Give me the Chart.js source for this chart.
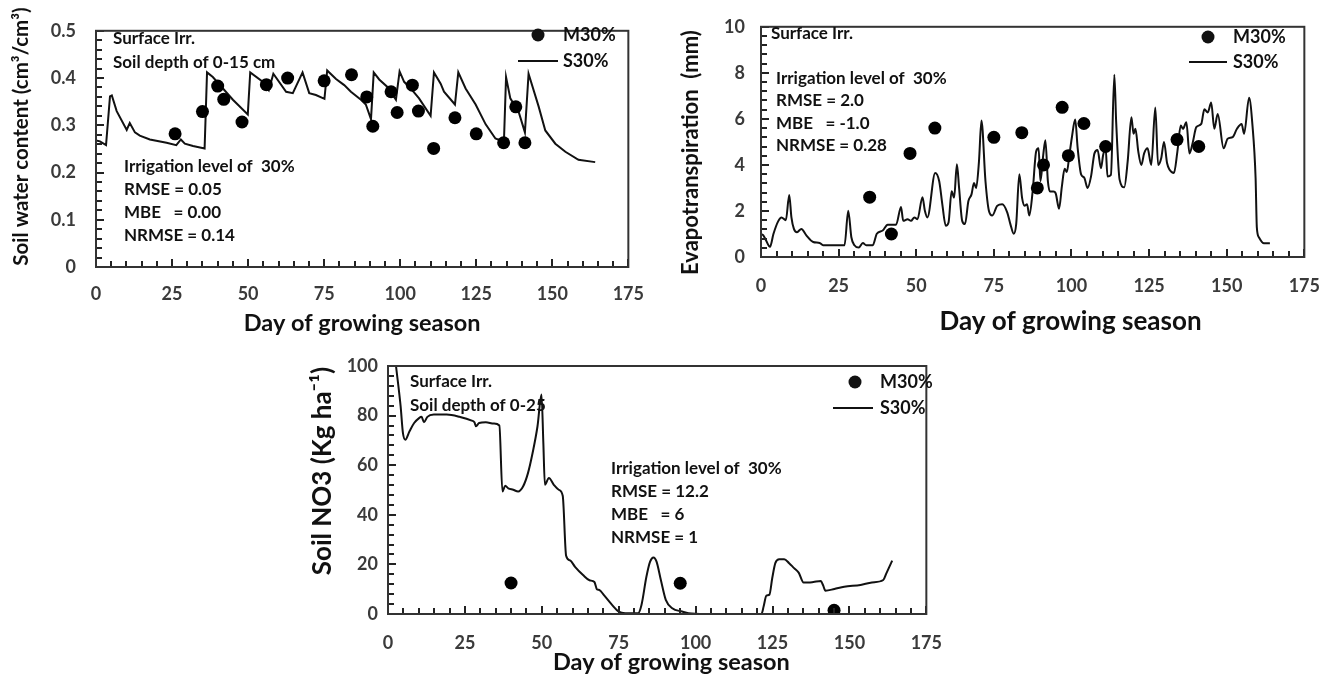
<!DOCTYPE html>
<html><head><meta charset="utf-8">
<script src="https://cdn.jsdelivr.net/npm/chart.js@4.4.1/dist/chart.umd.min.js"></script>
<style>
html,body{margin:0;padding:0;background:#fff;width:1338px;height:678px;overflow:hidden;position:relative}
canvas{position:absolute}
</style></head><body>
<canvas id="c1" width="660" height="340" style="left:0;top:0"></canvas>
<canvas id="c2" width="678" height="340" style="left:660px;top:0"></canvas>
<canvas id="c3" width="660" height="338" style="left:300px;top:340px"></canvas>
<script>
// ---------- DATA ----------
const seriesNames = ['M30%', 'S30%'];
const xAxisTitle = 'Day of growing season';

// Panel 1: soil water content
const swcSimDays = [0,1.3,3.3,4.6,5.2,6.8,10.1,11.1,12.8,14.4,17.7,23.2,26.4,27.9,29.2,31.9,35.7,36.5,38.4,45,49.9,50.7,54.8,56.8,58.3,62.5,64.7,67.9,70.1,72.3,75.1,76,78.9,81.6,83.8,87.1,88.7,90.4,91.3,93.1,95.8,98.6,99.8,101.3,104,106.2,110,111.1,113.3,114.4,118,119.1,121.5,124.8,128.1,131.3,134.1,134.8,136.2,139,141,142.2,145.5,147.7,151,154.3,158.6,164.1];
const swcSimVals = [0.268,0.266,0.258,0.361,0.363,0.33,0.29,0.305,0.285,0.278,0.27,0.263,0.258,0.27,0.261,0.256,0.251,0.412,0.402,0.354,0.323,0.412,0.392,0.374,0.409,0.371,0.368,0.412,0.368,0.364,0.356,0.416,0.398,0.385,0.371,0.354,0.344,0.313,0.412,0.397,0.381,0.354,0.414,0.392,0.374,0.357,0.32,0.412,0.388,0.371,0.344,0.412,0.378,0.344,0.302,0.272,0.265,0.402,0.357,0.327,0.285,0.409,0.34,0.289,0.261,0.244,0.227,0.222];
const swcObsDays = [26,35,40,42,48,56,63,75,84,89,91,97,99,104,106,111,118,125,134,138,141];
const swcObsVals = [0.282,0.329,0.383,0.355,0.307,0.386,0.40,0.394,0.407,0.36,0.298,0.371,0.327,0.385,0.33,0.251,0.316,0.282,0.263,0.339,0.263];
const swcTicks = [0,0.1,0.2,0.3,0.4,0.5];

// Panel 2: evapotranspiration
const etSimDays = [0,0.75,1.6,2.9,4.0,5.6,6.6,8.0,9.1,9.8,10.6,11.6,13.0,14.6,16.8,18.9,20,26.9,28.1,29.1,30.1,31.5,32.8,33.9,36,37.3,39.2,40.8,43.5,45.1,45.8,47.2,48.3,49.4,50.4,52.0,52.8,53.6,56.1,57.4,58.4,59.5,60.4,61.4,62.2,63.1,63.8,64.8,65.7,66.8,67.8,68.6,69.3,70.2,71.0,72.3,73.4,74.5,76.1,77.7,79.3,80.3,81.4,82.2,83.2,84.1,84.9,85.7,86.4,87.5,88.6,89.4,90.0,90.9,91.6,92.4,93.1,94.2,94.9,96.0,96.9,97.8,98.5,99.3,100.1,101.2,102.0,103.1,104.1,105.2,106.3,107.4,108.4,109.5,110.2,111.0,111.6,112.7,113.8,114.4,115.5,117.0,118.1,119.3,120.0,120.6,121.5,122.5,123.4,124.5,125.7,127.0,127.9,128.9,129.8,130.8,131.6,133.0,134.1,135.2,135.9,137.0,138.0,139.1,140.2,141.8,142.8,143.9,145.0,146.0,147.1,149.0,150.3,151.9,153.3,154.8,155.6,157.2,158.3,159.3,159.7,160.4,162.0,163.9];
const etSimVals = [1.0,0.94,0.73,0.44,1.0,1.57,1.72,1.6,2.69,1.72,1.22,1.08,1.22,0.94,0.65,0.61,0.51,0.51,2.01,0.86,0.51,0.41,0.61,0.51,0.51,1.01,1.15,1.40,1.40,2.17,1.57,1.64,1.57,1.72,1.64,2.6,2.0,1.72,3.65,3.29,2.29,1.36,1.5,2.86,2.58,4.03,3.0,1.57,1.43,2.43,2.72,3.22,3.0,4.14,5.93,3.29,2.01,1.80,2.23,2.29,1.94,1.44,1.01,1.44,3.6,2.56,2.23,2.29,1.80,2.86,4.57,4.72,3.29,4.43,5.07,3.29,2.84,2.84,2.77,2.1,3.06,3.83,3.69,4.4,5.17,5.97,4.72,3.59,3.45,3.0,3.5,4.5,4.65,3.86,4.43,4.72,3.5,3.57,7.92,5.85,3.36,3.03,4.15,6.07,5.35,5.57,4.6,4.0,4.5,4.72,4.0,6.49,4.0,4.29,5.0,4.07,3.79,3.65,4.57,5.71,5.57,5.85,4.50,5.0,5.64,5.78,6.42,6.28,6.71,5.57,6.21,4.72,5.14,5.21,5.57,5.78,5.35,6.92,5.71,3.43,1.29,0.85,0.6,0.6];
const etObsDays = [35,42,48,56,75,84,89,91,97,99,104,111,134,141];
const etObsVals = [2.6,1.0,4.5,5.6,5.2,5.4,3.0,4.0,6.5,4.4,5.8,4.8,5.1,4.8];
const etTicks = [0,2,4,6,8,10];

// Panel 3: soil NO3
const no3SimDays = [2.6,4.1,4.85,5.6,7.0,8.5,10.1,10.9,11.7,12.8,14.9,19.1,23.3,27.0,28.1,28.6,29.6,31.8,34.4,36.2,37.2,38.1,39.1,40.7,42.3,43.9,45.5,47.0,48.6,49.9,50.5,51.0,52.3,53.9,55.5,56.8,57.9,59.2,60.8,63.4,65.5,67.1,67.9,68.7,70.2,72.9,75.0,77.1,81.3,82.4,84.0,85.2,86.3,87.3,88.7,90.3,92.4,95.6,97.7,103,121.4,122.1,123.0,124.0,124.9,125.9,127.2,128.8,130.4,132.0,133.5,135.1,136.7,138.3,140.7,141.4,142.2,145.1,148.3,153.6,157.3,161.0,162.0,163.9];
const no3SimVals = [100,83.8,73,70.3,73.7,77.0,79.0,79.5,77.3,79.5,80.4,80.4,79.5,78.1,77.3,75.7,77.0,77.3,76.8,76.0,49.4,51.7,50.7,50.1,49.4,51.4,56.8,64.9,75.7,88.5,68.9,52.1,54.8,52.1,50.1,47.7,23.5,21.6,19.0,15.7,13.6,12.9,10.0,9.7,7.6,3.6,0.95,0.3,0.3,3.6,15.0,21.1,22.8,21.1,13.7,5.7,2.3,1.0,0.3,0,0,3.0,7.4,7.8,14.4,20.5,22.1,22.1,20.5,18.5,16.7,12.7,12.7,12.9,13.3,11.7,9.4,10.1,11.0,11.7,12.7,13.7,16.4,21.5];
const no3ObsDays = [40,95,145];
const no3ObsVals = [12.5,12.4,1.5];
const no3Ticks = [0,20,40,60,80,100];

const xTicks = [0,25,50,75,100,125,150,175];
const minorPerMajor = 5;

// ---------- HELPERS ----------
const FONT = 'Lato, "Open Sans", sans-serif';
const pts = (xs, ys) => xs.map((x, i) => ({x, y: ys[i]}));

function decorPlugin(cfg) {
  return {
    id: 'decor',
    afterDraw(chart) {
      const ctx = chart.ctx;
      const a = chart.chartArea;
      const sx = chart.scales.x, sy = chart.scales.y;
      const w = a.right - a.left, h = a.bottom - a.top;
      ctx.save();
      ctx.fillStyle = '#222';
      // inward tick marks along bottom (every 1/5 of a major step)
      const xStep = (xTicks[1] - xTicks[0]) / minorPerMajor;
      const nx = Math.round((sx.max - sx.min) / xStep);
      for (let i = 0; i <= nx; i++) {
        const px = a.left + (i * xStep) / (sx.max - sx.min) * w;
        const len = (i % minorPerMajor === 0) ? 8 : 6;
        ctx.fillRect(Math.round(px) - 1, a.bottom - len, 2, len);
      }
      // inward tick marks along left side
      const yt = cfg.yTicks;
      const yStep = (yt[1] - yt[0]) / minorPerMajor;
      const ny = Math.round((sy.max - sy.min) / yStep);
      for (let j = 0; j <= ny; j++) {
        const py = a.bottom - (j * yStep) / (sy.max - sy.min) * h;
        const len = (j % minorPerMajor === 0) ? 8 : 6;
        ctx.fillRect(a.left, Math.round(py) - 1, len, 2);
      }
      // frame
      ctx.lineWidth = 2;
      ctx.strokeStyle = '#333';
      ctx.strokeRect(a.left, a.top, w, h);
      // annotations
      const o = cfg.notes;
      ctx.fillStyle = '#111';
      ctx.textBaseline = 'middle';
      ctx.textAlign = 'left';
      ctx.font = 'bold ' + o.size + 'px ' + FONT;
      o.lines.forEach(l => ctx.fillText(l.text, l.x, l.y));
      // legend
      const L = o.legend;
      ctx.font = 'bold ' + L.size + 'px ' + FONT;
      ctx.beginPath(); ctx.arc(L.dotX, L.dotY, 6.5, 0, Math.PI * 2); ctx.fill();
      ctx.fillText(seriesNames[0], L.textX, L.dotY);
      ctx.strokeStyle = '#111';
      ctx.beginPath(); ctx.moveTo(L.lineX1, L.lineY); ctx.lineTo(L.lineX2, L.lineY); ctx.stroke();
      ctx.fillText(seriesNames[1], L.textX, L.lineY);
      ctx.restore();
    }
  };
}

function makeChart(id, cfg) {
  const cv = document.getElementById(id);
  const W = cv.width, H = cv.height;
  const yMin = cfg.yTicks[0], yMax = cfg.yTicks[cfg.yTicks.length - 1];
  return new Chart(cv, {
    type: 'scatter',
    data: {
      datasets: [
        {label: seriesNames[0], data: pts(cfg.obsX, cfg.obsY), showLine: false,
         pointRadius: 6.5, pointHoverRadius: 6.5, backgroundColor: '#000', borderWidth: 0, order: 0},
        {label: seriesNames[1], data: pts(cfg.simX, cfg.simY), showLine: true,
         pointRadius: 0, borderColor: '#111', borderWidth: 2, backgroundColor: '#111',
         cubicInterpolationMode: cfg.smooth ? 'monotone' : 'default', tension: 0, order: 1}
      ]
    },
    options: {
      responsive: false, animation: false, devicePixelRatio: 1,
      layout: {padding: {top: cfg.area.top, right: W - cfg.area.right, left: 0, bottom: 0}},
      plugins: {legend: {display: false}, tooltip: {enabled: false}},
      scales: {
        x: {type: 'linear', min: 0, max: 175,
          afterBuildTicks: s => { s.ticks = xTicks.map(v => ({value: v})); },
          grid: {display: false, drawTicks: false}, border: {display: false},
          ticks: {autoSkip: false, maxRotation: 0, padding: cfg.xPad, color: '#3a3a3a',
                  font: {family: FONT, size: 18, weight: 'bold'}},
          title: {display: true, text: cfg.xTitle, color: '#111', padding: {top: 0, bottom: cfg.xTitlePad},
                  font: {family: FONT, size: cfg.xTitleSize, weight: 'bold'}},
          afterFit: s => { s.height = H - cfg.area.bottom; }
        },
        y: {type: 'linear', min: yMin, max: yMax,
          afterBuildTicks: s => { s.ticks = cfg.yTicks.map(v => ({value: v})); },
          grid: {display: false, drawTicks: false}, border: {display: false},
          ticks: {autoSkip: false, padding: cfg.yPad, color: '#3a3a3a',
                  font: {family: FONT, size: 18, weight: 'bold'},
                  callback: v => String(+v.toFixed(2))},
          title: {display: true, text: cfg.yTitle, color: '#111', padding: {top: cfg.yTitlePad, bottom: 0},
                  font: {family: FONT, size: cfg.yTitleSize, weight: 'bold'}},
          afterFit: s => { s.width = cfg.area.left; }
        }
      }
    },
    plugins: [decorPlugin(cfg)]
  });
}

makeChart('c1', {
  simX: swcSimDays, simY: swcSimVals, obsX: swcObsDays, obsY: swcObsVals, smooth: false,
  yTicks: swcTicks, xTitle: xAxisTitle, yTitle: '     Soil water content (cm³/cm³)',
  xTitleSize: 23.5, yTitleSize: 20.5,
  area: {left: 96, top: 24, right: 630, bottom: 267},
  xPad: 16, yPad: 20, xTitlePad: 2, yTitlePad: 9,
  notes: {size: 17, lines: [
    {text: 'Surface Irr.', x: 113, y: 39},
    {text: 'Soil depth of 0-15 cm', x: 113, y: 63},
    {text: 'Irrigation level of  30%', x: 124, y: 167},
    {text: 'RMSE = 0.05', x: 124, y: 190},
    {text: 'MBE   = 0.00', x: 124, y: 213},
    {text: 'NRMSE = 0.14', x: 124, y: 236}],
    legend: {size: 18, dotX: 538, dotY: 35, textX: 563, lineX1: 518, lineX2: 558, lineY: 61}}
});

makeChart('c2', {
  simX: etSimDays, simY: etSimVals, obsX: etObsDays, obsY: etObsVals, smooth: true,
  yTicks: etTicks, xTitle: '            ' + xAxisTitle, yTitle: 'Evapotranspiration  (mm)    ',
  xTitleSize: 26, yTitleSize: 22,
  area: {left: 101, top: 23, right: 647, bottom: 257},
  xPad: 18, yPad: 16, xTitlePad: 3, yTitlePad: 18,
  notes: {size: 17, lines: [
    {text: 'Surface Irr.', x: 111, y: 34},
    {text: 'Irrigation level of  30%', x: 116, y: 79},
    {text: 'RMSE = 2.0', x: 116, y: 101},
    {text: 'MBE   = -1.0', x: 116, y: 124},
    {text: 'NRMSE = 0.28', x: 116, y: 146}],
    legend: {size: 18, dotX: 548, dotY: 37, textX: 573, lineX1: 529, lineX2: 567, lineY: 62}}
});

makeChart('c3', {
  simX: no3SimDays, simY: no3SimVals, obsX: no3ObsDays, obsY: no3ObsVals, smooth: true,
  yTicks: no3Ticks, xTitle: '     ' + xAxisTitle, yTitle: '      Soil NO3 (Kg ha⁻¹)',
  xTitleSize: 23.5, yTitleSize: 26,
  area: {left: 88, top: 26, right: 641, bottom: 274},
  xPad: 18, yPad: 10, xTitlePad: 1, yTitlePad: 7,
  notes: {size: 17, lines: [
    {text: 'Surface Irr.', x: 110, y: 42},
    {text: 'Soil depth of 0-25', x: 110, y: 66},
    {text: 'Irrigation level of  30%', x: 311, y: 129},
    {text: 'RMSE = 12.2', x: 311, y: 152},
    {text: 'MBE   = 6', x: 311, y: 175},
    {text: 'NRMSE = 1', x: 311, y: 198}],
    legend: {size: 18, dotX: 555, dotY: 42, textX: 580, lineX1: 533, lineX2: 573, lineY: 68}}
});
</script>
</body></html>
